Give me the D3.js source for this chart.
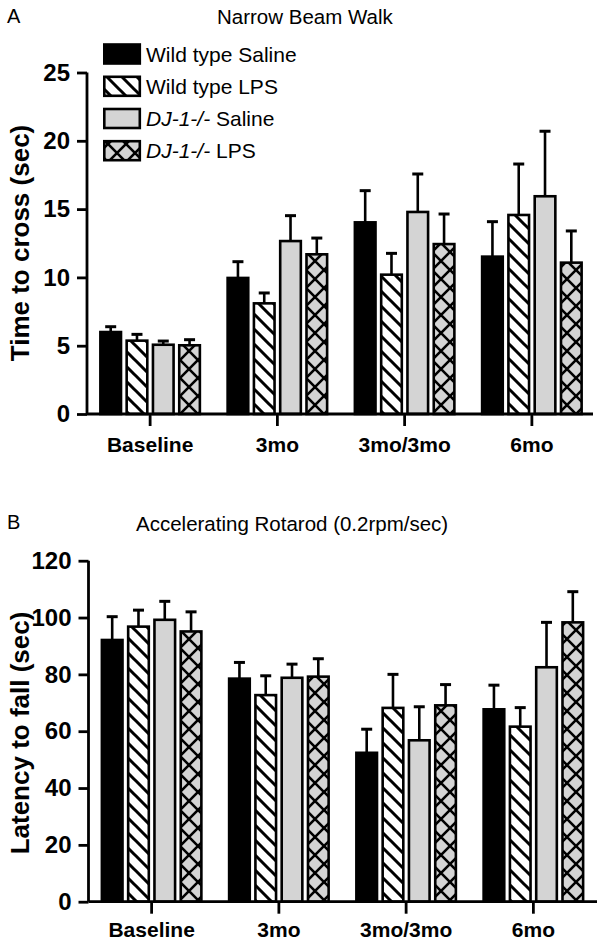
<!DOCTYPE html>
<html>
<head>
<meta charset="utf-8">
<script src="https://cdn.jsdelivr.net/npm/d3@7/dist/d3.min.js"></script>
<style>
  html, body { margin: 0; padding: 0; background: #fff; }
  svg { display: block; font-family: "Liberation Sans", Arial, Helvetica, sans-serif; }
</style>
</head>
<body>
<svg id="chart" width="600" height="944"></svg>
<script>
// ---------------- DATA ----------------
const categories = ["Baseline", "3mo", "3mo/3mo", "6mo"];
const seriesKeys = ["wtSaline", "wtLps", "djSaline", "djLps"];
const seriesItalic = ["", "", "DJ-1-/-", "DJ-1-/-"];
const seriesRest = ["Wild type Saline", "Wild type LPS", " Saline", " LPS"];

// Panel A: Narrow Beam Walk, time to cross (sec)
const beamWtSaline = [6.0, 9.96, 14.03, 11.52];
const beamWtLps = [5.37, 8.1, 10.2, 14.57];
const beamDjSaline = [5.07, 12.66, 14.79, 15.94];
const beamDjLps = [5.03, 11.69, 12.44, 11.08];
const beamWtSalineErr = [0.39, 1.19, 2.32, 2.56];
const beamWtLpsErr = [0.46, 0.76, 1.56, 3.73];
const beamDjSalineErr = [0.27, 1.86, 2.78, 4.76];
const beamDjLpsErr = [0.41, 1.19, 2.2, 2.32];
const beamTicks = [0, 5, 10, 15, 20, 25];

// Panel B: Accelerating Rotarod, latency to fall (sec)
const rotWtSaline = [92.1, 78.5, 52.4, 67.7];
const rotWtLps = [96.8, 72.7, 68.2, 61.6];
const rotDjSaline = [99.2, 78.8, 56.8, 82.5];
const rotDjLps = [95.1, 79.2, 69.1, 98.3];
const rotWtSalineErr = [8.2, 5.7, 8.3, 8.5];
const rotWtLpsErr = [5.8, 6.8, 11.8, 6.7];
const rotDjSalineErr = [6.5, 4.8, 11.8, 15.8];
const rotDjLpsErr = [6.9, 6.3, 7.3, 10.8];
const rotTicks = [0, 20, 40, 60, 80, 100, 120];

// ---------------- DRAW ----------------
const svg = d3.select("#chart");
const defs = svg.append("defs");

// Diagonal stripes (white with black "\" lines)
const ps = 15;
const stripe = defs.append("pattern").attr("id", "stripe")
  .attr("patternUnits", "userSpaceOnUse").attr("width", ps).attr("height", ps);
stripe.append("rect").attr("width", ps).attr("height", ps).attr("fill", "#fff");
stripe.append("path")
  .attr("d", `M${-ps/2},${ps/2} L${ps/2},${ps*1.5} M0,0 L${ps},${ps} M${ps/2},${-ps/2} L${ps*1.5},${ps/2}`)
  .attr("stroke", "#000").attr("stroke-width", 3);

// Cross-hatch (light gray with black X lines)
const pc = 18;
const cross = defs.append("pattern").attr("id", "cross")
  .attr("patternUnits", "userSpaceOnUse").attr("width", pc).attr("height", pc);
cross.append("rect").attr("width", pc).attr("height", pc).attr("fill", "#d4d4d4");
cross.append("path")
  .attr("d", `M0,0 L${pc},${pc} M${pc},0 L0,${pc}`)
  .attr("stroke", "#000").attr("stroke-width", 2.6);

const fills = ["#000", "url(#stripe)", "#d4d4d4", "url(#cross)"];

function panel(opts) {
  const { letter, title, titleX, titleY, letterY, yLabel, yLabelCenter,
          yDomain, yRange, xRange, axisX, xEnd, ticks, means, errs, catPad } = opts;
  const g = svg.append("g");
  const y = d3.scaleLinear().domain(yDomain).range(yRange);
  const x = d3.scaleBand().domain(categories).range(xRange).padding(0);
  const groupW = 102;
  const x1 = d3.scaleBand().domain(seriesKeys).range([0, groupW]).paddingInner(0.12).paddingOuter(0);

  // letter & title
  g.append("text").attr("x", 7).attr("y", letterY).attr("font-size", 20).text(letter);
  g.append("text").attr("x", titleX).attr("y", titleY).attr("font-size", 20.5).text(title);

  // bars
  seriesKeys.forEach((k, si) => {
    const vals = means[si], ev = errs[si];
    const bg = g.append("g");
    categories.forEach((c, ci) => {
      const cx = x(c) + x.bandwidth() / 2 - groupW / 2 + x1(k);
      const w = x1.bandwidth();
      const top = y(vals[ci]);
      const base = y(0);
      const mid = cx + w / 2;
      // error bar (upward only)
      bg.append("line").attr("x1", mid).attr("x2", mid)
        .attr("y1", top).attr("y2", y(vals[ci] + ev[ci]))
        .attr("stroke", "#000").attr("stroke-width", 2.6);
      bg.append("line").attr("x1", mid - 5.5).attr("x2", mid + 5.5)
        .attr("y1", y(vals[ci] + ev[ci])).attr("y2", y(vals[ci] + ev[ci]))
        .attr("stroke", "#000").attr("stroke-width", 3);
      bg.append("rect")
        .attr("x", cx + 1.25).attr("y", top)
        .attr("width", w - 2.5).attr("height", base - top)
        .attr("fill", fills[si]).attr("stroke", "#000").attr("stroke-width", 2.6);
    });
  });

  // y axis
  const yAxis = d3.axisLeft(y).tickValues(ticks).tickSize(10).tickPadding(7).tickFormat(d3.format("d"));
  const ya = g.append("g").attr("transform", `translate(${axisX},0)`).call(yAxis);
  ya.select(".domain").attr("d", `M0,${y(ticks[ticks.length-1])}H0V${y(0)}`)
    .attr("stroke", "#000").attr("stroke-width", 2.8);
  ya.selectAll(".tick line").attr("stroke", "#000").attr("stroke-width", 2.8);
  ya.selectAll(".tick text").attr("font-size", 24).attr("font-weight", "bold")
    .attr("fill", "#000").attr("font-family", "'Liberation Sans', Arial, sans-serif");

  // x axis
  const xAxis = d3.axisBottom(x).tickSize(12).tickPadding(catPad).tickSizeOuter(0);
  const xa = g.append("g").attr("transform", `translate(0,${y(0)})`).call(xAxis);
  xa.select(".domain").attr("d", `M${axisX},0H${xEnd}`).attr("stroke", "#000").attr("stroke-width", 2.8);
  xa.selectAll(".tick line").attr("stroke", "#000").attr("stroke-width", 2.8);
  xa.selectAll(".tick text").attr("font-size", 21).attr("font-weight", "bold")
    .attr("fill", "#000").attr("font-family", "'Liberation Sans', Arial, sans-serif");

  // y label
  g.append("text")
    .attr("transform", `translate(29,${yLabelCenter}) rotate(-90)`)
    .attr("text-anchor", "middle").attr("font-size", 26).attr("font-weight", "bold")
    .text(yLabel);
  return g;
}

panel({
  letter: "A", title: "Narrow Beam Walk", titleX: 217, titleY: 24, letterY: 23,
  yLabel: "Time to cross (sec)", yLabelCenter: 243,
  yDomain: [0, 25], yRange: [414, 72.5], xRange: [86.5, 595.5], axisX: 87, xEnd: 593,
  ticks: beamTicks, catPad: 11,
  means: [beamWtSaline, beamWtLps, beamDjSaline, beamDjLps],
  errs: [beamWtSalineErr, beamWtLpsErr, beamDjSalineErr, beamDjLpsErr]
});

panel({
  letter: "B", title: "Accelerating Rotarod (0.2rpm/sec)", titleX: 136, titleY: 531, letterY: 529,
  yLabel: "Latency to fall (sec)", yLabelCenter: 733,
  yDomain: [0, 120], yRange: [901.7, 560.7], xRange: [88, 597], axisX: 88.5, xEnd: 597,
  ticks: rotTicks, catPad: 8,
  means: [rotWtSaline, rotWtLps, rotDjSaline, rotDjLps],
  errs: [rotWtSalineErr, rotWtLpsErr, rotDjSalineErr, rotDjLpsErr]
});

// legend
const legendRows = [54, 86.3, 118.5, 150.7];
const lg = svg.append("g");
seriesKeys.forEach((k, i) => {
  const cy = legendRows[i];
  lg.append("rect").attr("x", 104.3).attr("y", cy - 9.5).attr("width", 35.5).attr("height", 19)
    .attr("fill", fills[i]).attr("stroke", "#000").attr("stroke-width", 2.6);
  const t = lg.append("text").attr("x", 146).attr("y", cy + 7.5).attr("font-size", 21);
  if (seriesItalic[i]) t.append("tspan").attr("font-style", "italic").text(seriesItalic[i]);
  t.append("tspan").text(seriesRest[i]);
});
</script>
</body>
</html>
